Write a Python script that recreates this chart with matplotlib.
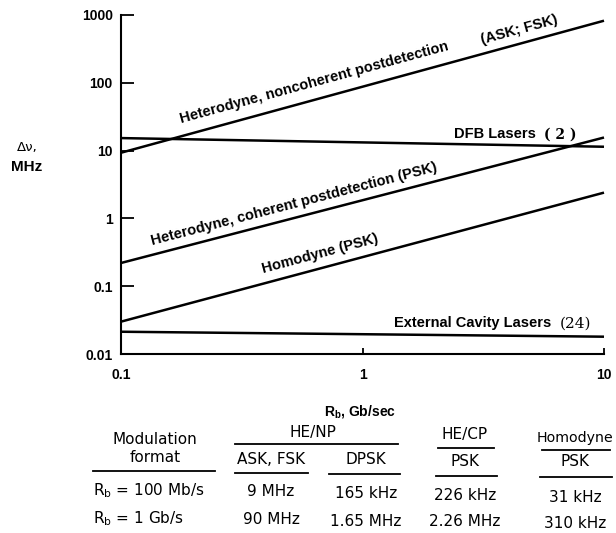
import numpy as np
import matplotlib
matplotlib.use("Agg")
import matplotlib.pyplot as plt
from matplotlib.lines import Line2D

W, H, DPI = 616, 533, 100

# Bit rate (Gb/s) at the two ends of every line
rate = [0.1, 10.0]

# Required IF linewidth (MHz) for each receiver type, and laser linewidths
het_noncoherent = [9.3, 824.0]
het_coherent = [0.22, 15.6]
homodyne = [0.030, 2.4]
dfb_lasers = [15.3, 11.4]
ext_cavity = [0.0213, 0.018]

x_ticks = [0.1, 1, 10]
x_ticklabels = ["0.1", "1", "10"]
y_ticks = [0.01, 0.1, 1, 10, 100, 1000]
y_ticklabels = ["0.01", "0.1", "1", "10", "100", "1000"]

# Table of linewidth requirements
col_groups = ["HE/NP", "HE/CP", "Homodyne"]
col_formats = ["ASK, FSK", "DPSK", "PSK", "PSK"]
row_labels = [r"R$_\mathregular{b}$ = 100 Mb/s", r"R$_\mathregular{b}$ = 1 Gb/s"]
row_100mb = ["9 MHz", "165 kHz", "226 kHz", "31 kHz"]
row_1gb = ["90 MHz", "1.65 MHz", "2.26 MHz", "310 kHz"]

SANS = "Liberation Sans"
TABLE = "DejaVu Sans"

fig = plt.figure(figsize=(W / DPI, H / DPI), dpi=DPI)


def fx(px):
    return px / W


def fy(py):
    return 1 - py / H


ax = fig.add_axes([fx(121), fy(354), fx(604) - fx(121), fy(15) - fy(354)])
ax.set_xscale("log")
ax.set_yscale("log")
ax.set_xlim(0.1, 10)
ax.set_ylim(0.01, 1000)
for s in ("top", "right"):
    ax.spines[s].set_visible(False)
for s in ("left", "bottom"):
    ax.spines[s].set_linewidth(1.5)

ax.set_xticks(x_ticks)
ax.set_xticklabels(x_ticklabels, fontfamily=SANS, fontweight="bold", fontsize=10)
ax.set_yticks(y_ticks)
ax.set_yticklabels(y_ticklabels, fontfamily=SANS, fontweight="bold", fontsize=10)
ax.minorticks_off()
ax.tick_params(axis="y", direction="in", length=9, width=1.3, pad=6)
ax.tick_params(axis="x", direction="in", length=4, width=1.3, pad=10)

LW = 1.8
for ys in (het_noncoherent, het_coherent, homodyne, dfb_lasers, ext_cavity):
    ax.plot(rate, ys, color="black", lw=LW, solid_capstyle="butt", clip_on=False)


def line_label(xs, ys, xc, text, gap, follow=True, **kw):
    """Write text alongside a straight log-log line, centred at rate xc."""
    yc = 10 ** np.interp(np.log10(xc), np.log10(xs), np.log10(ys))
    if follow:
        p0 = ax.transData.transform((xs[0], ys[0]))
        p1 = ax.transData.transform((xs[-1], ys[-1]))
        ang = np.degrees(np.arctan2(p1[1] - p0[1], p1[0] - p0[0]))
    else:
        ang = 0.0
    th = np.radians(ang)
    ax.annotate(text, (xc, yc), xytext=(-np.sin(th) * gap, np.cos(th) * gap),
                textcoords="offset points", rotation=ang, rotation_mode="anchor",
                ha="center", va="baseline", **kw)


lab = dict(fontfamily=SANS, fontweight="bold", fontsize=10.5)
line_label(rate, het_noncoherent, 0.66, "Heterodyne, noncoherent postdetection", 9, **lab)
line_label(rate, het_noncoherent, 4.6, "(ASK; FSK)", 7, **lab)
line_label(rate, het_coherent, 0.54, "Heterodyne, coherent postdetection (PSK)", 7, **lab)
line_label(rate, homodyne, 0.69, "Homodyne (PSK)", 7.5, **lab)
line_label(rate, dfb_lasers, 3.54, "DFB Lasers", 5, follow=False, **lab)
line_label(rate, dfb_lasers, 6.58, "( 2 )", 5, follow=False,
           fontfamily="DejaVu Serif", fontweight="bold", fontsize=10)
line_label(rate, ext_cavity, 2.85, "External Cavity Lasers", 6, follow=False, **lab)
line_label(rate, ext_cavity, 7.59, "(24)", 6, follow=False,
           fontfamily="DejaVu Serif", fontsize=11)

# Axis titles
fig.text(fx(27), fy(147), "\u0394\u03bd,", ha="center", va="center",
         fontfamily="DejaVu Sans", fontsize=9.5)
fig.text(fx(27), fy(167), "MHz", ha="center", va="center",
         fontfamily=SANS, fontweight="bold", fontsize=11)
fig.text(fx(360), fy(411), r"R$_\mathregular{b}$, Gb/sec", ha="center", va="center",
         fontfamily=SANS, fontweight="bold", fontsize=10)

# ---- table below the chart ----
tkw = dict(fontfamily=TABLE, fontsize=11, ha="center", va="center")


def rule(x0, x1, y):
    fig.add_artist(Line2D([fx(x0), fx(x1)], [fy(y), fy(y)], color="black", lw=1.3))


fig.text(fx(155), fy(440), "Modulation", **tkw)
fig.text(fx(155), fy(458), "format", **tkw)
rule(93, 215, 471)

group_pos = [(313, 433, 235, 398, 444), (465, 435, 438, 494, 448), (575, 438, 542, 610, 450)]
for name, (cx, cy, r0, r1, ry) in zip(col_groups, group_pos):
    size = 10.2 if len(name) > 6 else 11
    fig.text(fx(cx), fy(cy), name, **{**tkw, "fontsize": size})
    rule(r0, r1, ry)

col_x = [271, 366, 465, 575]
fmt_pos = [(459, 235, 308, 473), (460, 329, 400, 474), (461, 436, 497, 476), (462, 540, 612, 477)]
for name, cx, (cy, r0, r1, ry) in zip(col_formats, col_x, fmt_pos):
    fig.text(fx(cx), fy(cy), name, **tkw)
    rule(r0, r1, ry)

row_y = [[491, 492, 493, 496, 497], [519, 520, 521, 522, 524]]
for label, vals, ys in zip(row_labels, [row_100mb, row_1gb], row_y):
    fig.text(fx(93), fy(ys[0]), label, fontfamily=TABLE, fontsize=11, ha="left", va="center")
    for v, cx, cy in zip(vals, col_x, ys[1:]):
        fig.text(fx(cx), fy(cy), v, **tkw)

fig.savefig("out.png", dpi=DPI)
